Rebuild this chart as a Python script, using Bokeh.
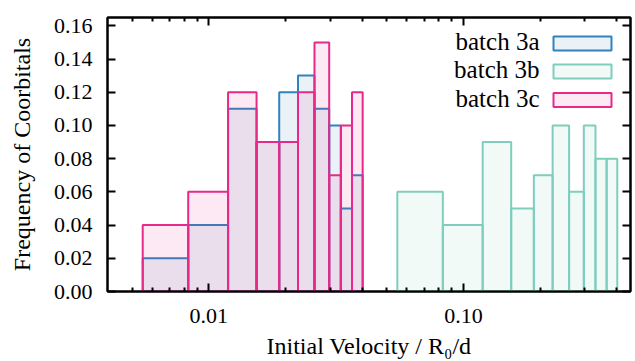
from bokeh.plotting import figure
from bokeh.models import (Range1d, FixedTicker, PrintfTickFormatter, LogAxis,
                          LinearAxis, Label, BoxAnnotation, CustomJSTickFormatter)
from bokeh.embed import file_html
from bokeh.resources import INLINE

# ---- data ----
edges_low = [0.0055, 0.0083, 0.0119, 0.0154, 0.0189, 0.0224, 0.0260, 0.0297, 0.0330, 0.0365, 0.0402]
edges_high = [0.055, 0.083, 0.119, 0.154, 0.189, 0.224, 0.260, 0.297, 0.330, 0.365, 0.402]
freq_3a = [0.02, 0.04, 0.11, 0.09, 0.12, 0.13, 0.11, 0.10, 0.05, 0.07]
freq_3b = [0.06, 0.04, 0.09, 0.05, 0.07, 0.10, 0.06, 0.10, 0.08, 0.08]
freq_3c = [0.04, 0.06, 0.12, 0.09, 0.09, 0.12, 0.15, 0.07, 0.10, 0.12]
series_names = ["batch 3a", "batch 3b", "batch 3c"]
x_major = [0.01, 0.1]
x_minor = [0.005, 0.006, 0.007, 0.008, 0.009,
           0.02, 0.03, 0.04, 0.05, 0.06, 0.07, 0.08, 0.09,
           0.2, 0.3, 0.4]
y_ticks = [0.00, 0.02, 0.04, 0.06, 0.08, 0.10, 0.12, 0.14, 0.16]

BLUE = "#3182bd"
TEAL = "#7fcdbb"
PINK = "#e7298a"
FONT = "Liberation Serif"

p = figure(width=635, height=361, x_axis_type="log",
           x_range=Range1d(0.004, 0.453), y_range=Range1d(0, 0.165),
           output_backend="svg", toolbar_location=None,
           min_border_left=107, min_border_right=5, min_border_top=17, min_border_bottom=68)
p.xgrid.visible = False
p.ygrid.visible = False
p.outline_line_color = "black"
p.outline_line_width = 2
p.background_fill_color = "white"
p.border_fill_color = "white"

# bars
p.quad(left=edges_low[:-1], right=edges_low[1:], bottom=0, top=freq_3a,
       fill_color=BLUE, fill_alpha=0.1, line_color=BLUE, line_width=2)
p.quad(left=edges_high[:-1], right=edges_high[1:], bottom=0, top=freq_3b,
       fill_color=TEAL, fill_alpha=0.1, line_color=TEAL, line_width=2)
p.quad(left=edges_low[:-1], right=edges_low[1:], bottom=0, top=freq_3c,
       fill_color=PINK, fill_alpha=0.1, line_color=PINK, line_width=2)

def style_axis(ax, show_labels):
    ax.axis_line_width = 2
    ax.axis_line_color = "black"
    ax.major_tick_in = 8
    ax.major_tick_out = 0
    ax.minor_tick_in = 4
    ax.minor_tick_out = 0
    ax.major_tick_line_width = 2
    ax.minor_tick_line_width = 2
    ax.major_label_text_font = FONT
    ax.major_label_text_color = "black"
    ax.axis_label_text_font = FONT
    ax.axis_label_text_font_style = "normal"
    ax.axis_label_text_color = "black"
    if show_labels:
        ax.major_label_text_font_size = "22px"
    else:
        ax.major_label_text_font_size = "1px"
        ax.major_label_standoff = 0
        ax.formatter = CustomJSTickFormatter(code="return ''")

xt = FixedTicker(ticks=x_major, minor_ticks=x_minor)
yt = FixedTicker(ticks=y_ticks, minor_ticks=[])

xa = p.xaxis[0]
xa.ticker = xt
xa.formatter = PrintfTickFormatter(format="%.2f")
style_axis(xa, True)
xa.major_label_standoff = 17
xa.axis_label = "Initial Velocity / R\u2080/d"
xa.axis_label_text_font_size = "24px"
xa.axis_label_standoff = 7

ya = p.yaxis[0]
ya.ticker = yt
ya.formatter = PrintfTickFormatter(format="%.2f")
style_axis(ya, True)
ya.major_label_standoff = 15
ya.axis_label = "Frequency of Coorbitals"
ya.axis_label_text_font_size = "24px"
ya.axis_label_standoff = 16

top = LogAxis(ticker=FixedTicker(ticks=x_major, minor_ticks=x_minor))
style_axis(top, False)
p.add_layout(top, "above")

right = LinearAxis(ticker=FixedTicker(ticks=y_ticks, minor_ticks=[]))
style_axis(right, False)
p.add_layout(right, "right")

# legend (gnuplot style: text then sample box)
colors = [BLUE, TEAL, PINK]
row_y = [248, 220, 191.5]
for name, col, yy in zip(series_names, colors, row_y):
    p.add_layout(Label(x=432, y=yy + 2, x_units="screen", y_units="screen", text=name,
                       text_align="right", text_baseline="middle",
                       text_font=FONT, text_font_size="25px", text_color="black"))
    p.add_layout(BoxAnnotation(left=446, right=504, bottom=yy - 7, top=yy + 7,
                               left_units="screen", right_units="screen",
                               bottom_units="screen", top_units="screen",
                               fill_color=col, fill_alpha=0.1,
                               line_color=col, line_width=2, line_alpha=1))

open("out.html", "w").write(file_html(p, INLINE))
